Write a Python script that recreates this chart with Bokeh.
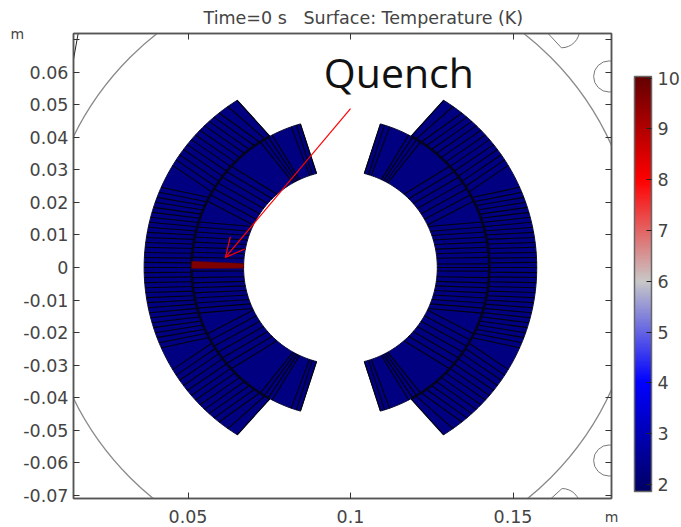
import numpy as np
from bokeh.plotting import figure
from bokeh.embed import file_html
from bokeh.resources import INLINE
from bokeh.models import (LinearAxis, FixedTicker, Label, Arrow, OpenHead, ColorBar,
                          LinearColorMapper, Range1d)

title_text = "Time=0 s\u00a0\u00a0\u00a0Surface: Temperature (K)"
annotation = "Quench"
axis_unit = "m"
x_ticks = [0.05, 0.1, 0.15]
x_labels = ["0.05", "0.1", "0.15"]
y_ticks = [0.07, 0.06, 0.05, 0.04, 0.03, 0.02, 0.01, 0, -0.01, -0.02, -0.03, -0.04, -0.05, -0.06, -0.07]
y_labels = ["", "0.06", "0.05", "0.04", "0.03", "0.02", "0.01", "0", "-0.01", "-0.02", "-0.03", "-0.04", "-0.05", "-0.06", "-0.07"]
cbar_ticks = [2, 3, 4, 5, 6, 7, 8, 9, 10]

# geometry of the coil, metres and degrees from the mid-plane
centre_x = 0.0969
r_inner, r_mid, r_outer = 0.0298, 0.0458, 0.0604
r_shell = 0.0915
low_temp, high_temp = 1.86, 10.03

# turn boundaries: angle on the inner radius, angle on the outer radius of each layer
outer_turns_in = [0, 1.8, 3.6, 5.5, 7.3, 9.1, 10.9, 12.6, 14.2, 15.9, 17.6, 19.3, 21.0, 22.7, 24.5, 26.2, 28.0,
                  30.4, 32.9, 35.3, 37.7, 40.2, 42.6, 45.0, 47.5, 49.9, 52.3, 54.8, 57.2, 59.5, 61.7]
outer_turns_out = [0, 1.5, 2.9, 4.4, 5.9, 7.3, 8.8, 10.3, 11.8, 13.3, 14.8, 16.3, 17.8, 19.4, 20.9, 22.5, 24.1,
                   31.3, 33.2, 35.0, 36.9, 38.7, 40.6, 42.4, 44.3, 46.2, 48.0, 49.9, 51.8, 55.0, 58.3]
inner_turns_in = [0, 2.1, 5.5, 8.2, 10.9, 13.7, 16.5, 19.3, 22.0, 25.0,
                  26.0, 29.8, 33.6, 37.5, 41.3, 45.2, 49.0,
                  60.8, 62.2, 63.6, 65.0, 71.4, 73.1, 75.7]
inner_turns_out = [0, 1.4, 3.9, 5.9, 7.8, 9.8, 11.8, 13.8, 15.8, 17.8,
                   26.5, 29.2, 31.9, 34.6, 37.4, 40.1, 42.8,
                   57.4, 59.2, 61.0, 62.7, 70.7, 72.8, 74.4]
quench_turn = [-0.4, 2.4]

palette_stops = [(1.86, (0, 0, 100)), (4.0, (0, 0, 255)), (6, (200, 200, 200)), (8, (255, 0, 0)), (10.03, (100, 0, 0))]

x0, x1 = 0.01477, 0.1803
y0, y1 = -0.07097, 0.0719

p = figure(width=681, height=527, output_backend="svg", toolbar_location=None,
           x_range=Range1d(x0, x1), y_range=Range1d(y0, y1),
           frame_width=538, frame_height=465, min_border_left=73, min_border_top=33,
           min_border_bottom=29, min_border_right=20, title=title_text,
           background_fill_color="white")
p.grid.visible = False
p.title.align = "left"
p.title.offset = 130
p.title.text_font = "DejaVu Sans"
p.title.text_font_size = "17.5px"
p.title.text_font_style = "normal"
p.title.text_color = "#444444"
p.title.standoff = 11
p.outline_line_color = "#555555"
p.outline_line_width = 1.5

def style_axis(ax, ticks, labels):
    ax.ticker = FixedTicker(ticks=ticks)
    ax.major_label_overrides = dict(zip(ticks, labels))
    ax.major_tick_in = 6
    ax.major_tick_out = 0
    ax.minor_tick_in = 0
    ax.minor_tick_out = 0
    ax.major_tick_line_color = "#333333"
    ax.major_tick_line_width = 1
    ax.axis_line_color = "#555555"
    ax.axis_line_width = 1.5
    ax.major_label_text_font = "DejaVu Sans"
    ax.major_label_text_font_size = "17.5px"
    ax.major_label_text_color = "#444444"

style_axis(p.xaxis[0], x_ticks, x_labels)
style_axis(p.yaxis[0], y_ticks, y_labels)
p.xaxis[0].major_label_standoff = 11
p.yaxis[0].major_label_standoff = 5

for ax in (p.xaxis[0], p.yaxis[0]):
    ax.axis_label = axis_unit
    ax.axis_label_align = "end"
    ax.axis_label_text_font = "DejaVu Sans"
    ax.axis_label_text_font_size = "14px"
    ax.axis_label_text_font_style = "normal"
    ax.axis_label_text_color = "#444444"
p.xaxis[0].axis_label_standoff = -17
p.yaxis[0].axis_label_standoff = -4
p.yaxis[0].axis_label_orientation = "horizontal"

for place, ticks in (("above", x_ticks), ("right", y_ticks)):
    ax = LinearAxis()
    style_axis(ax, ticks, [""] * len(ticks))
    ax.major_label_text_font_size = "0px"
    ax.major_label_standoff = 0
    p.add_layout(ax, place)

def polar(r, ang, sx, sy):
    a = np.radians(ang)
    return centre_x + sx * r * np.cos(a), sy * r * np.sin(a)

def block(r1, r2, a1, a2, sx, sy):
    t1 = np.linspace(a1[0], a1[-1], 60)
    t2 = np.linspace(a2[-1], a2[0], 60)
    x1_, y1_ = polar(r1, t1, sx, sy)
    x2_, y2_ = polar(r2, t2, sx, sy)
    return np.r_[x1_, x2_], np.r_[y1_, y2_]

navy = "#000080"
for sx in (-1, 1):
    for sy in (1, -1):
        for r1, r2, a1, a2 in ((r_inner, r_mid, inner_turns_in, inner_turns_out),
                               (r_mid, r_outer, outer_turns_in, outer_turns_out)):
            xs, ys = block(r1, r2, a1, a2, sx, sy)
            p.patch(xs, ys, fill_color=navy, line_color="#111133", line_width=1)
            xa, ya = polar(r1, np.array(a1), sx, sy)
            xb, yb = polar(r2, np.array(a2), sx, sy)
            p.segment(xa, ya, xb, yb, line_color="#02020f", line_width=1.1)
        t = np.linspace(outer_turns_in[0], outer_turns_in[-1], 80)
        xm, ym = polar(r_mid, t, sx, sy)
        p.line(xm, ym, line_color="#04041c", line_width=2.5)

# quenched turn
qa_in = np.array(quench_turn)
xa, ya = polar(r_inner, qa_in, -1, 1)
xb, yb = polar(r_mid, qa_in[::-1], -1, 1)
p.patch(np.r_[xa, xb], np.r_[ya, yb], fill_color="#800000", line_color="#5a0000", line_width=0.5)

# surrounding shell and the corner cut-outs
p.arc([centre_x], [0], radius=r_shell, start_angle=0, end_angle=2 * np.pi, line_color="#8a8a8a", line_width=1.3)
p.arc([0.1796, 0.1796], [0.0587, -0.0593], radius=0.0048, start_angle=0, end_angle=2 * np.pi,
      line_color="#777777", line_width=1)
p.arc([0.1649], [0.0731], radius=0.0056, start_angle=-np.pi / 2, end_angle=0, line_color="#777777", line_width=1)
p.arc([0.1651], [-0.0734], radius=0.0055, start_angle=0, end_angle=np.pi / 2, line_color="#777777", line_width=1)
p.line([0.1608, 0.1649], [0.0719, 0.0675], line_color="#777777", line_width=1)
p.line([0.1617, 0.1651], [-0.07097, -0.0679], line_color="#777777", line_width=1)
p.line([0.01477, 0.0162], [0.0640, 0.0719], line_color="#222222", line_width=1)

# annotation
p.add_layout(Arrow(end=OpenHead(line_color="red", line_width=1.2, size=19), line_color="red", line_width=1.2,
                   x_start=0.1, y_start=0.0488, x_end=0.0615, y_end=0.0031))
p.add_layout(Label(x=0.0918, y=0.0516, text=annotation, text_font="Open Sans", text_font_size="41px",
                   text_color="#111111"))

# colour bar
vals = [s[0] for s in palette_stops]
levels = np.linspace(low_temp, high_temp, 256)
palette = ["#%02x%02x%02x" % tuple(int(round(np.interp(v, vals, [s[1][i] for s in palette_stops]))) for i in range(3))
           for v in levels]
mapper = LinearColorMapper(palette=palette, low=low_temp, high=high_temp)
cb = ColorBar(color_mapper=mapper, ticker=FixedTicker(ticks=cbar_ticks), width=17, height=415,
              location=(23, 7), major_tick_in=5, major_tick_out=0, major_tick_line_color="#222222",
              bar_line_color="#666666", bar_line_width=1.5, border_line_color=None,
              major_label_text_font="DejaVu Sans", major_label_text_font_size="17.5px",
              major_label_text_color="#444444", label_standoff=6, padding=0, margin=0, background_fill_color=None)
p.add_layout(cb, "right")

open("out.html", "w").write(file_html(p, INLINE))
